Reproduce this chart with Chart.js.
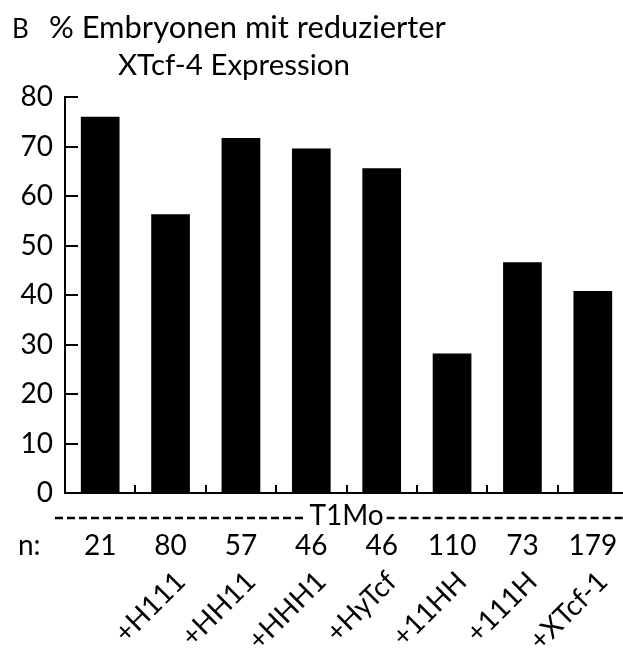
<!DOCTYPE html>
<html lang="de">
<head>
<meta charset="UTF-8">
<title>XTcf-4 Expression</title>
<script src="https://cdn.jsdelivr.net/npm/chart.js@4"></script>
<style>
  html, body { margin: 0; padding: 0; background: #fff; overflow: hidden; }
  #wrap { width: 623px; height: 655px; overflow: hidden; }
</style>
</head>
<body>
<div id="wrap"><canvas id="myChart" width="630" height="655"></canvas></div>
<script>
// values
var percent = [76, 56.3, 71.7, 69.6, 65.6, 28.2, 46.6, 40.8];
var nValues = ["21", "80", "57", "46", "46", "110", "73", "179"];
var constructs = ["", "+H111", "+HH11", "+HHH1", "+HyTcf", "+11HH", "+111H", "+XTcf-1"];
var titleLines = ["% Embryonen mit reduzierter", "XTcf-4 Expression"];
var panelLabel = "B";
var groupLabel = "T1Mo";
var nLabel = "n:";

var FONT = "Lato";

// no extra side padding for labels, the axes sit where the figure has them
function noPad(s) {
  s.paddingLeft = 0;
  s.paddingRight = 0;
  s.paddingTop = 0;
  s.paddingBottom = 0;
}

// title, "B", dashed T1Mo line and "n:"
var decor = {
  id: "decor",
  afterDraw: function (chart) {
    var ctx = chart.ctx;
    var x = chart.scales.x;
    ctx.save();
    ctx.fillStyle = "#000";
    ctx.textBaseline = "alphabetic";
    ctx.textAlign = "left";

    ctx.font = "26px " + FONT;
    ctx.fillText(panelLabel, 12, 38);

    // fit title lines to the widths in the original
    var fits = [[49, 38, 397], [118, 75, 232]];
    titleLines.forEach(function (t, i) {
      ctx.font = "28px " + FONT;
      var w = ctx.measureText(t).width;
      var size = 28 * fits[i][2] / w;
      ctx.font = size.toFixed(2) + "px " + FONT;
      ctx.fillText(t, fits[i][0], fits[i][1]);
    });

    // ---------T1Mo--------- line
    ctx.font = "28px " + FONT;
    var mid = (x.left + x.right) / 2;
    var tw = ctx.measureText(groupLabel).width;
    ctx.textAlign = "center";
    ctx.fillText(groupLabel, mid, x.top + 32);
    ctx.strokeStyle = "#000";
    ctx.lineWidth = 2.5;
    ctx.setLineDash([8, 4]);
    ctx.beginPath();
    ctx.moveTo(55, x.top + 25);
    ctx.lineTo(mid - tw / 2 - 3, x.top + 25);
    ctx.moveTo(mid + tw / 2 + 3, x.top + 25);
    ctx.lineTo(chart.width, x.top + 25);
    ctx.stroke();
    ctx.setLineDash([]);

    // "n:" on the same line as the n values
    var o = x.options;
    var lh = 28 * 1.2;
    ctx.textAlign = "left";
    ctx.textBaseline = "middle";
    ctx.fillText(nLabel, 18, x.top + o.grid.tickLength + o.ticks.padding + lh / 2);
    ctx.restore();
  }
};

var ctx = document.getElementById("myChart").getContext("2d");
var chart = new Chart(ctx, {
  type: "bar",
  data: {
    labels: nValues,
    datasets: [{
      data: percent,
      backgroundColor: "#000",
      borderWidth: 0,
      barPercentage: 0.55,
      categoryPercentage: 1,
      xAxisID: "x",
      yAxisID: "y"
    }]
  },
  options: {
    responsive: false,
    animation: false,
    layout: { padding: { top: 97, right: 2, left: 0, bottom: 0 } },
    plugins: {
      legend: { display: false },
      tooltip: { enabled: false },
      title: { display: false }
    },
    scales: {
      y: {
        min: 0,
        max: 80,
        ticks: { stepSize: 10, color: "#000", font: { family: FONT, size: 28 }, padding: 25 },
        grid: { drawOnChartArea: false, tickLength: -13, color: "#000", lineWidth: 2 },
        border: { color: "#000", width: 2 },
        afterFit: function (s) { s.width = 65; noPad(s); }
      },
      x: {
        labels: nValues,
        offset: true,
        weight: 0,
        ticks: { color: "#000", font: { family: FONT, size: 28 }, padding: 44, maxRotation: 0, autoSkip: false },
        grid: { offset: true, drawOnChartArea: false, tickLength: -8, color: "#000", lineWidth: 2 },
        border: { color: "#000", width: 2 },
        afterFit: function (s) { s.height = 68; noPad(s); }
      },
      x2: {
        type: "category",
        position: "bottom",
        labels: constructs,
        offset: true,
        weight: 1,
        grid: { display: false },
        border: { display: false },
        ticks: {
          color: "#000", font: { family: FONT, size: 28 },
          minRotation: 45, maxRotation: 45, autoSkip: false,
          padding: -4, labelOffset: 10
        },
        afterFit: function (s) { s.height = 94; noPad(s); }
      }
    }
  },
  plugins: [decor]
});
</script>
</body>
</html>
